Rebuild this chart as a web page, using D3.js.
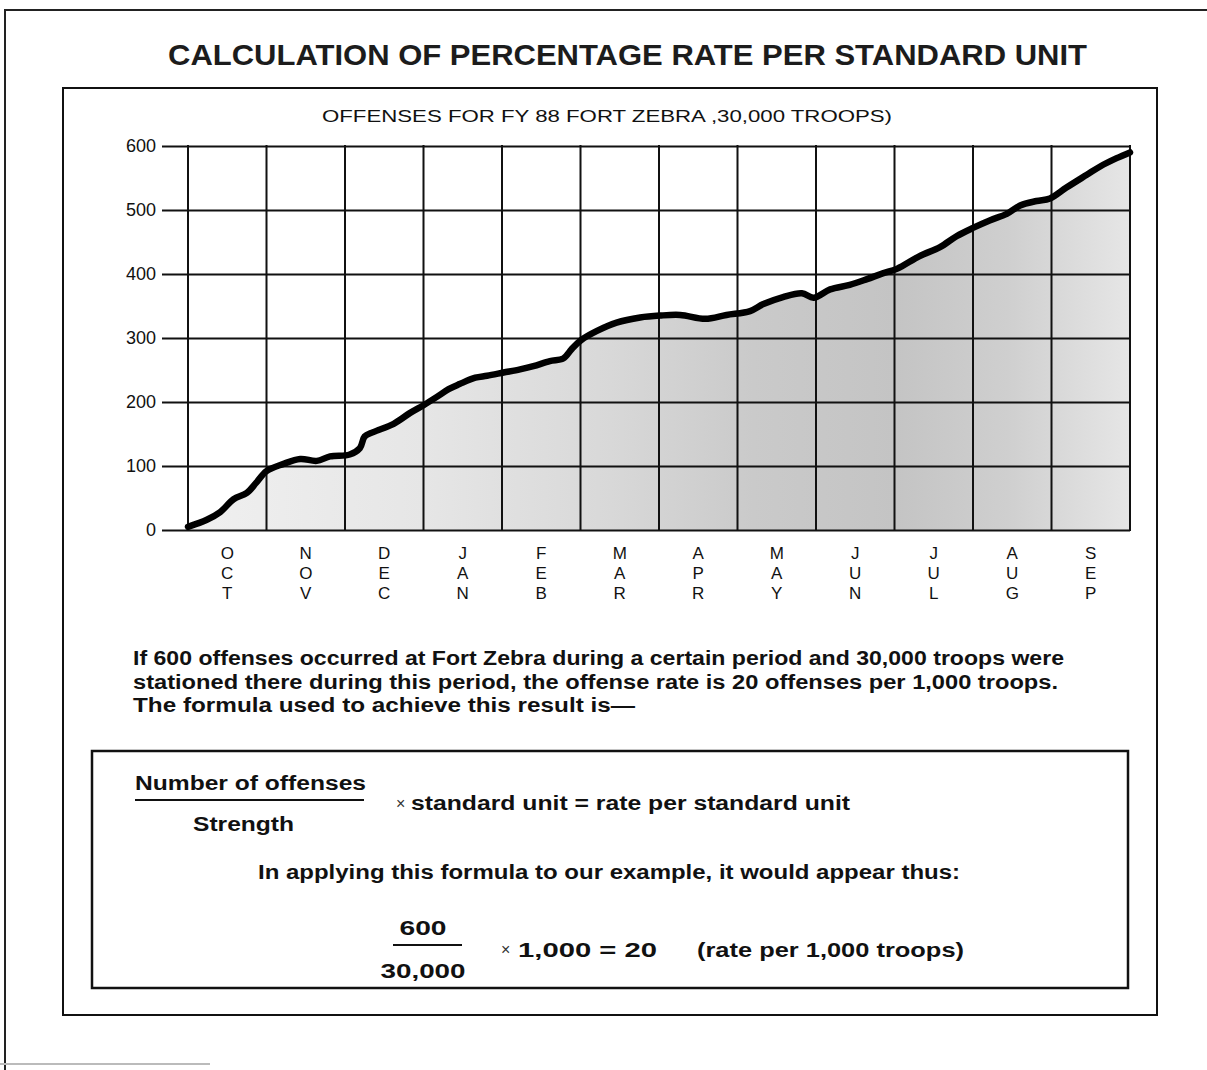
<!DOCTYPE html>
<html>
<head>
<meta charset="utf-8">
<script src="https://cdn.jsdelivr.net/npm/d3@7"></script>
<style>
  body { margin: 0; background: #fff; }
  svg { display: block; }
  text { font-family: "Liberation Sans Narrow", "Arial Narrow", "Liberation Sans", Arial, sans-serif; fill: #111; }
</style>
</head>
<body>
<svg id="chart" width="1207" height="1070"></svg>
<script>
// Chart data
const months = ['OCT', 'NOV', 'DEC', 'JAN', 'FEB', 'MAR', 'APR', 'MAY', 'JUN', 'JUL', 'AUG', 'SEP'];
const yTicks = [0, 100, 200, 300, 400, 500, 600];

// position in months since start of FY (0 = 1 Oct) and cumulative offenses
const monthPos = [0, 0.24, 0.41, 0.58, 0.75, 0.87, 1.0, 1.21, 1.43, 1.64, 1.81, 2.06, 2.19, 2.25, 2.36,
  2.62, 2.83, 3.0, 3.17, 3.32, 3.46, 3.66, 3.81, 4.02, 4.23, 4.40, 4.61, 4.78, 4.89, 5.0, 5.21, 5.46,
  5.76, 6.01, 6.27, 6.59, 6.86, 7.16, 7.33, 7.58, 7.82, 7.97, 8.18, 8.43, 8.65, 8.85, 9.03, 9.32, 9.58,
  9.79, 10.0, 10.22, 10.43, 10.60, 10.81, 10.98, 11.19, 11.45, 11.62, 11.83, 12.0];
const offenses = [5, 16, 28, 48, 58, 74, 92, 103, 111, 108, 115, 118, 128, 146, 153,
  166, 183, 195, 208, 220, 228, 238, 241, 246, 251, 256, 264, 268, 283, 296, 311, 324,
  332, 335, 336, 330, 336, 342, 353, 364, 370, 363, 376, 383, 392, 401, 408, 428, 442,
  459, 472, 484, 494, 507, 514, 518, 535, 555, 568, 581, 590];

const title = 'CALCULATION OF PERCENTAGE RATE PER STANDARD UNIT';
const subtitle = 'OFFENSES FOR FY 88 FORT ZEBRA ,30,000 TROOPS)';
const paragraph = [
  'If 600 offenses occurred at Fort Zebra during a certain period and 30,000 troops were',
  'stationed there during this period, the offense rate is 20 offenses per 1,000 troops.',
  'The formula used to achieve this result is\u2014'
];

const svg = d3.select('#chart');

// outer page frame (scan edges)
svg.append('path').attr('d', 'M5,1070 V10 H1207').attr('fill', 'none').attr('stroke', '#222').attr('stroke-width', 2);
svg.append('line').attr('x1', 0).attr('x2', 210).attr('y1', 1064).attr('y2', 1064).attr('stroke', '#bbb').attr('stroke-width', 2);

// title
svg.append('text')
  .attr('x', 168).attr('y', 65)
  .attr('textLength', 919).attr('lengthAdjust', 'spacingAndGlyphs')
  .style('font-size', '30px').style('font-weight', 'bold').style('fill', '#1c1c1c')
  .text(title);

// inner frame
svg.append('rect').attr('x', 63).attr('y', 88).attr('width', 1094).attr('height', 927)
  .attr('fill', 'none').attr('stroke', '#111').attr('stroke-width', 2);

svg.append('text')
  .attr('x', 322).attr('y', 122)
  .attr('textLength', 570).attr('lengthAdjust', 'spacingAndGlyphs')
  .style('font-size', '16px')
  .text(subtitle);

// plot
const x = d3.scaleLinear().domain([0, 12]).range([188, 1130]);
const y = d3.scaleLinear().domain([0, 600]).range([530, 146]);

const defs = svg.append('defs');
const grad = defs.append('linearGradient').attr('id', 'shade')
  .attr('gradientUnits', 'userSpaceOnUse')
  .attr('x1', x(0)).attr('x2', x(12)).attr('y1', 0).attr('y2', 0);
[[0, '#f0f0f0'], [0.25, '#e6e6e6'], [0.45, '#d8d8d8'], [0.6, '#cacaca'], [0.75, '#c4c4c4'],
 [0.87, '#cfcfcf'], [1, '#e6e6e6']].forEach(([o, c]) => {
  grad.append('stop').attr('offset', o).attr('stop-color', c);
});

const pts = monthPos.map((m, i) => [m, offenses[i]]);

svg.append('path')
  .datum(pts)
  .attr('d', d3.area().x(d => x(d[0])).y0(y(0)).y1(d => y(d[1])).curve(d3.curveCatmullRom))
  .attr('fill', 'url(#shade)');

// horizontal grid + y labels
const yAxis = svg.append('g')
  .attr('transform', 'translate(162,0)')
  .call(d3.axisLeft(y).tickValues(yTicks).tickSize(-(x(12) - 162)).tickSizeOuter(0).tickPadding(6));
yAxis.select('.domain').remove();
yAxis.selectAll('line').attr('stroke', '#111').attr('stroke-width', 2);
yAxis.selectAll('text')
  .style('font-family', '"Liberation Sans", Arial, sans-serif')
  .style('font-size', '18px').attr('fill', '#111');

// vertical grid (month boundaries)
svg.append('g').selectAll('line')
  .data(d3.range(0, months.length + 1))
  .join('line')
  .attr('x1', d => x(d)).attr('x2', d => x(d))
  .attr('y1', y(600) - 1).attr('y2', y(0) + 1)
  .attr('stroke', '#111').attr('stroke-width', 2);

// the cumulative line
svg.append('path')
  .datum(pts)
  .attr('d', d3.line().x(d => x(d[0])).y(d => y(d[1])).curve(d3.curveCatmullRom))
  .attr('fill', 'none').attr('stroke', '#000')
  .attr('stroke-width', 6.5).attr('stroke-linejoin', 'round').attr('stroke-linecap', 'round');

// month labels, letters stacked
const mg = svg.append('g').selectAll('g')
  .data(months)
  .join('g')
  .attr('transform', (d, i) => `translate(${x(i + 0.5)},0)`);
mg.selectAll('text')
  .data(d => d.split(''))
  .join('text')
  .attr('text-anchor', 'middle')
  .attr('y', (d, i) => 559 + i * 20)
  .style('font-family', '"Liberation Sans", Arial, sans-serif')
  .style('font-size', '17px')
  .text(d => d);

// explanatory paragraph
const paraLen = [931, 925, 502];
svg.append('g').selectAll('text')
  .data(paragraph)
  .join('text')
  .attr('x', 133)
  .attr('y', (d, i) => 665 + i * 23.5)
  .attr('textLength', (d, i) => paraLen[i]).attr('lengthAdjust', 'spacingAndGlyphs')
  .style('font-size', '20px').style('font-weight', 'bold')
  .text(d => d);

// formula box
svg.append('rect').attr('x', 92).attr('y', 751).attr('width', 1036).attr('height', 237)
  .attr('fill', 'none').attr('stroke', '#111').attr('stroke-width', 2.5);

function label(tx, ty, str, len, anchor) {
  const t = svg.append('text').attr('x', tx).attr('y', ty)
    .style('font-size', '20px').style('font-weight', 'bold')
    .attr('text-anchor', anchor || 'start')
    .text(str);
  if (len) t.attr('textLength', len).attr('lengthAdjust', 'spacingAndGlyphs');
  return t;
}

label(135, 790, 'Number of offenses', 231);
svg.append('line').attr('x1', 135).attr('x2', 364).attr('y1', 800).attr('y2', 800).attr('stroke', '#111').attr('stroke-width', 2);
label(193, 831, 'Strength', 101);
svg.append('text').attr('x', 396).attr('y', 809).style('font-size', '16px').style('fill', '#333').text('\u00d7');
label(411, 810, 'standard unit = rate per standard unit', 439);

label(258, 879, 'In applying this formula to our example, it would appear thus:', 702);

label(423, 935, '600', 47, 'middle');
svg.append('line').attr('x1', 393).attr('x2', 462).attr('y1', 945).attr('y2', 945).attr('stroke', '#111').attr('stroke-width', 2);
label(423, 978, '30,000', 85, 'middle');
svg.append('text').attr('x', 501).attr('y', 955).style('font-size', '16px').style('fill', '#333').text('\u00d7');
label(518, 957, '1,000 = 20', 139);
label(697, 957, '(rate per 1,000 troops)', 267);
</script>
</body>
</html>
